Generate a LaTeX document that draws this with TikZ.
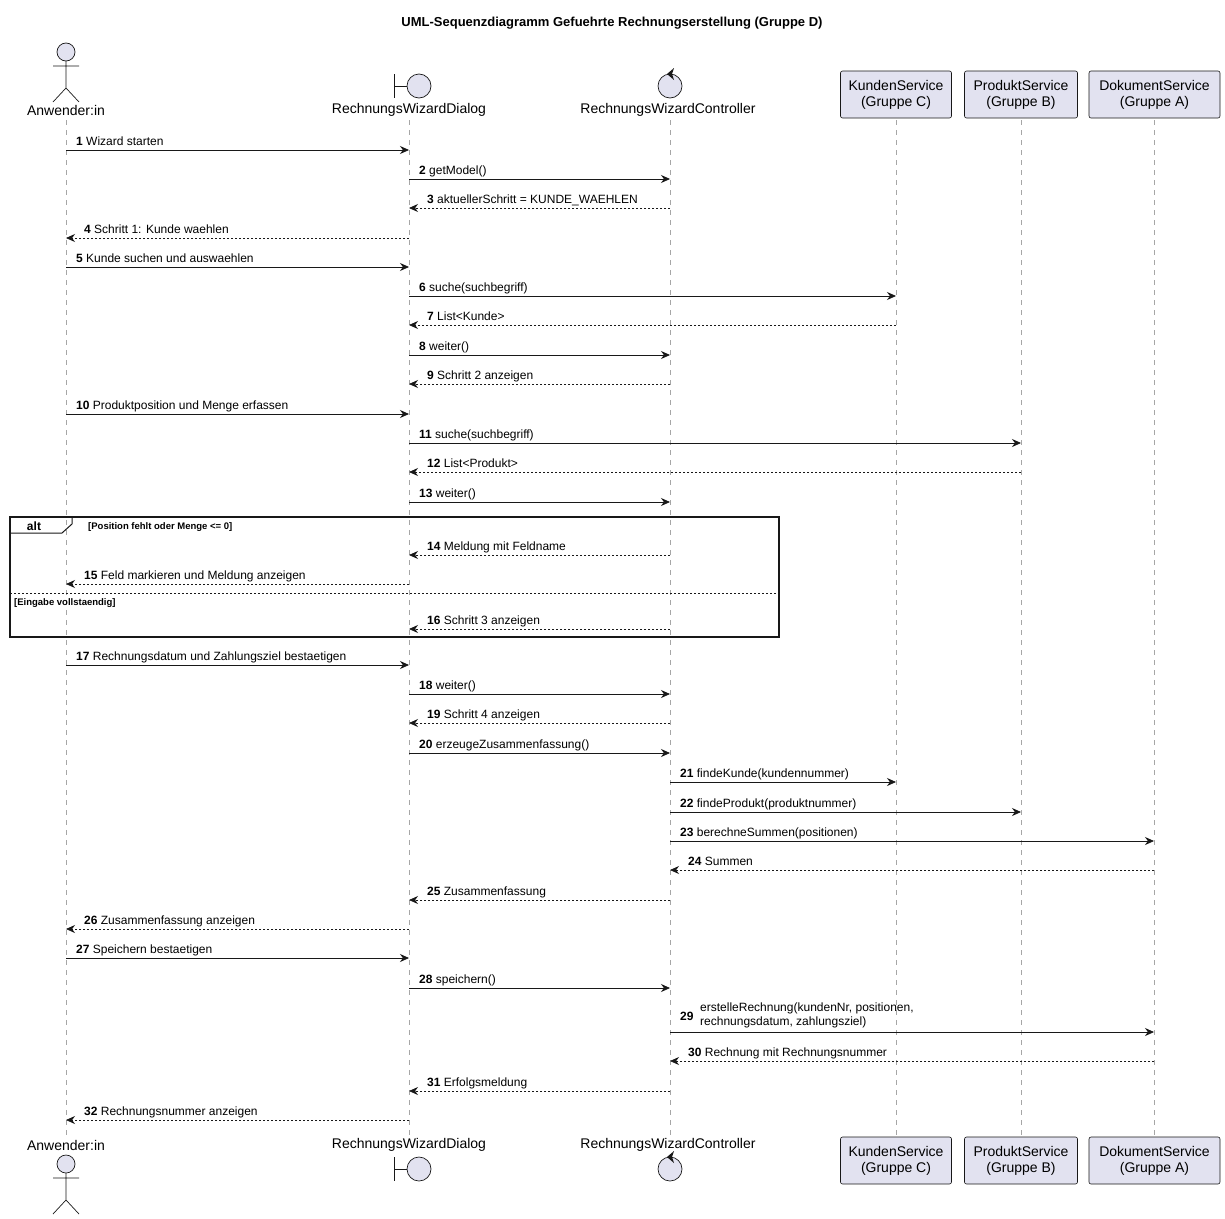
\documentclass[tikz,border=0pt]{standalone}
\usepackage{fontspec}
\setmainfont{Liberation Sans}
\usetikzlibrary{arrows.meta}
\definecolor{pfill}{HTML}{E2E2F0}
\definecolor{pline}{HTML}{181818}
\begin{document}
\begin{tikzpicture}[x=1pt,y=-1pt,
  life/.style={draw=gray!70,dash pattern=on 5pt off 5pt,line width=0.6pt},
  msg/.style={draw=pline,line width=0.8pt,-{Stealth[length=9pt,width=8pt]}},
  rmsg/.style={msg,dash pattern=on 2pt off 2pt},
  lbl/.style={inner sep=0pt,anchor=base west,font=\fontsize{12}{14}\selectfont},
  pname/.style={inner sep=0pt,font=\fontsize{14}{16}\selectfont,align=center},
  pbox/.style={draw=pline,fill=pfill,line width=0.6pt,rounded corners=2pt,inner sep=0pt,align=center,font=\fontsize{14}{16}\selectfont},
  icon/.style={draw=pline,fill=pfill,line width=0.7pt}]
\useasboundingbox (0,0) rectangle (1225,1218);
\node[font=\bfseries\fontsize{13}{15}\selectfont] (title) at (612,23) {UML-Sequenzdiagramm Gefuehrte Rechnungserstellung (Gruppe D)};
% lifelines
\foreach \n/\x in {A/66,D/409,C/670,K/896,P/1021,S/1154}{
  \coordinate (\n t) at (\x,120); \coordinate (\n b) at (\x,1135);
  \draw[life] (\n t) -- (\n b);}
% participants top and bottom
\foreach \yy/\s in {0/t,1066/b}{
  \begin{scope}[yshift=-\yy]
  \node[pbox,minimum width=111pt,minimum height=47pt] (K\s) at (896,94.5) {KundenService\\(Gruppe C)};
  \node[pbox,minimum width=113pt,minimum height=47pt] (P\s) at (1021,94.5) {ProduktService\\(Gruppe B)};
  \node[pbox,minimum width=131pt,minimum height=47pt] (S\s) at (1154.5,94.5) {DokumentService\\(Gruppe A)};
  \end{scope}}
\node[pname] (An1) at (66,110) {Anwender:in};
\node[pname] (Di1) at (409,110) {RechnungsWizardDialog};
\node[pname] (Co1) at (668,110) {RechnungsWizardController};
\node[pname] (An2) at (66,1145) {Anwender:in};
\node[pname] (Di2) at (409,1145) {RechnungsWizardDialog};
\node[pname] (Co2) at (668,1145) {RechnungsWizardController};
% actor icons
\foreach \y in {52,1164}{
  \draw[icon] (66,\y) circle (9);
  \draw[pline,line width=0.7pt] (66,\y+9) -- (66,\y+36) (53,\y+14) -- (79,\y+14)
     (53,\y+50) -- (66,\y+36) -- (79,\y+50);}
% boundary icons
\foreach \y in {86,1169}{
  \draw[icon] (419,\y) circle (12);
  \draw[pline,line width=0.7pt] (394,\y-12) -- (394,\y+12) (394,\y) -- (407,\y);}
% control icons
\foreach \y in {86,1169}{
  \draw[icon] (670,\y) circle (12);
  \fill[pline] (667,\y-12) -- (674,\y-18) -- (672,\y-12) -- (674,\y-6) -- cycle;}
% alt frame
\draw[pline,line width=1.2pt] (10,517) rectangle (779,637);
\draw[pline,line width=1pt] (10,533) -- (62,533) -- (72,524) -- (72,517);
\node[font=\bfseries\fontsize{12}{14}\selectfont,inner sep=0pt] (altl) at (34,526) {alt};
\node[font=\bfseries\fontsize{9.5}{11}\selectfont,inner sep=0pt,anchor=base west] (g1) at (88,529) {[Position fehlt oder Menge <= 0]};
\draw[pline,line width=0.6pt,dash pattern=on 2pt off 2pt] (10,593) -- (779,593);
\node[font=\bfseries\fontsize{9.5}{11}\selectfont,inner sep=0pt,anchor=base west] (g2) at (14,605) {[Eingabe vollstaendig]};
% messages: type, from, to, y, label
\newcommand\mR[5]{\coordinate (s#1) at (#2,#4); \coordinate (e#1) at (#3,#4);
  \draw[msg] (s#1) -- (e#1); \node[lbl] (l#1) at (#2+10,#4-5) {\textbf{#1} #5};}
\newcommand\mL[5]{\coordinate (s#1) at (#2,#4); \coordinate (e#1) at (#3,#4);
  \draw[rmsg] (s#1) -- (e#1); \node[lbl] (l#1) at (#3+18,#4-5) {\textbf{#1} #5};}
\mR{1}{66}{409}{150}{Wizard starten}
\mR{2}{409}{670}{179}{getModel()}
\mL{3}{670}{409}{208}{aktuellerSchritt = KUNDE\_WAEHLEN}
\mL{4}{409}{66}{238}{Schritt 1: Kunde waehlen}
\mR{5}{66}{409}{267}{Kunde suchen und auswaehlen}
\mR{6}{409}{896}{296}{suche(suchbegriff)}
\mL{7}{896}{409}{325}{List<Kunde>}
\mR{8}{409}{670}{355}{weiter()}
\mL{9}{670}{409}{384}{Schritt 2 anzeigen}
\mR{10}{66}{409}{414}{Produktposition und Menge erfassen}
\mR{11}{409}{1021}{443}{suche(suchbegriff)}
\mL{12}{1021}{409}{472}{List<Produkt>}
\mR{13}{409}{670}{502}{weiter()}
\mL{14}{670}{409}{555}{Meldung mit Feldname}
\mL{15}{409}{66}{584}{Feld markieren und Meldung anzeigen}
\mL{16}{670}{409}{629}{Schritt 3 anzeigen}
\mR{17}{66}{409}{665}{Rechnungsdatum und Zahlungsziel bestaetigen}
\mR{18}{409}{670}{694}{weiter()}
\mL{19}{670}{409}{723}{Schritt 4 anzeigen}
\mR{20}{409}{670}{753}{erzeugeZusammenfassung()}
\mR{21}{670}{896}{782}{findeKunde(kundennummer)}
\mR{22}{670}{1021}{812}{findeProdukt(produktnummer)}
\mR{23}{670}{1154}{841}{berechneSummen(positionen)}
\mL{24}{1154}{670}{870}{Summen}
\mL{25}{670}{409}{900}{Zusammenfassung}
\mL{26}{409}{66}{929}{Zusammenfassung anzeigen}
\mR{27}{66}{409}{958}{Speichern bestaetigen}
\mR{28}{409}{670}{988}{speichern()}
\coordinate (s29) at (670,1032); \coordinate (e29) at (1154,1032);
\draw[msg] (s29) -- (e29);
\node[lbl] (l29) at (680,1020) {\textbf{29}};
\node[inner sep=0pt,anchor=north west,align=left,font=\fontsize{12}{14}\selectfont] (t29) at (700,1003) {erstelleRechnung(kundenNr, positionen,\\rechnungsdatum, zahlungsziel)};
\mL{30}{1154}{670}{1061}{Rechnung mit Rechnungsnummer}
\mL{31}{670}{409}{1091}{Erfolgsmeldung}
\mL{32}{409}{66}{1120}{Rechnungsnummer anzeigen}
\end{tikzpicture}
\end{document}
